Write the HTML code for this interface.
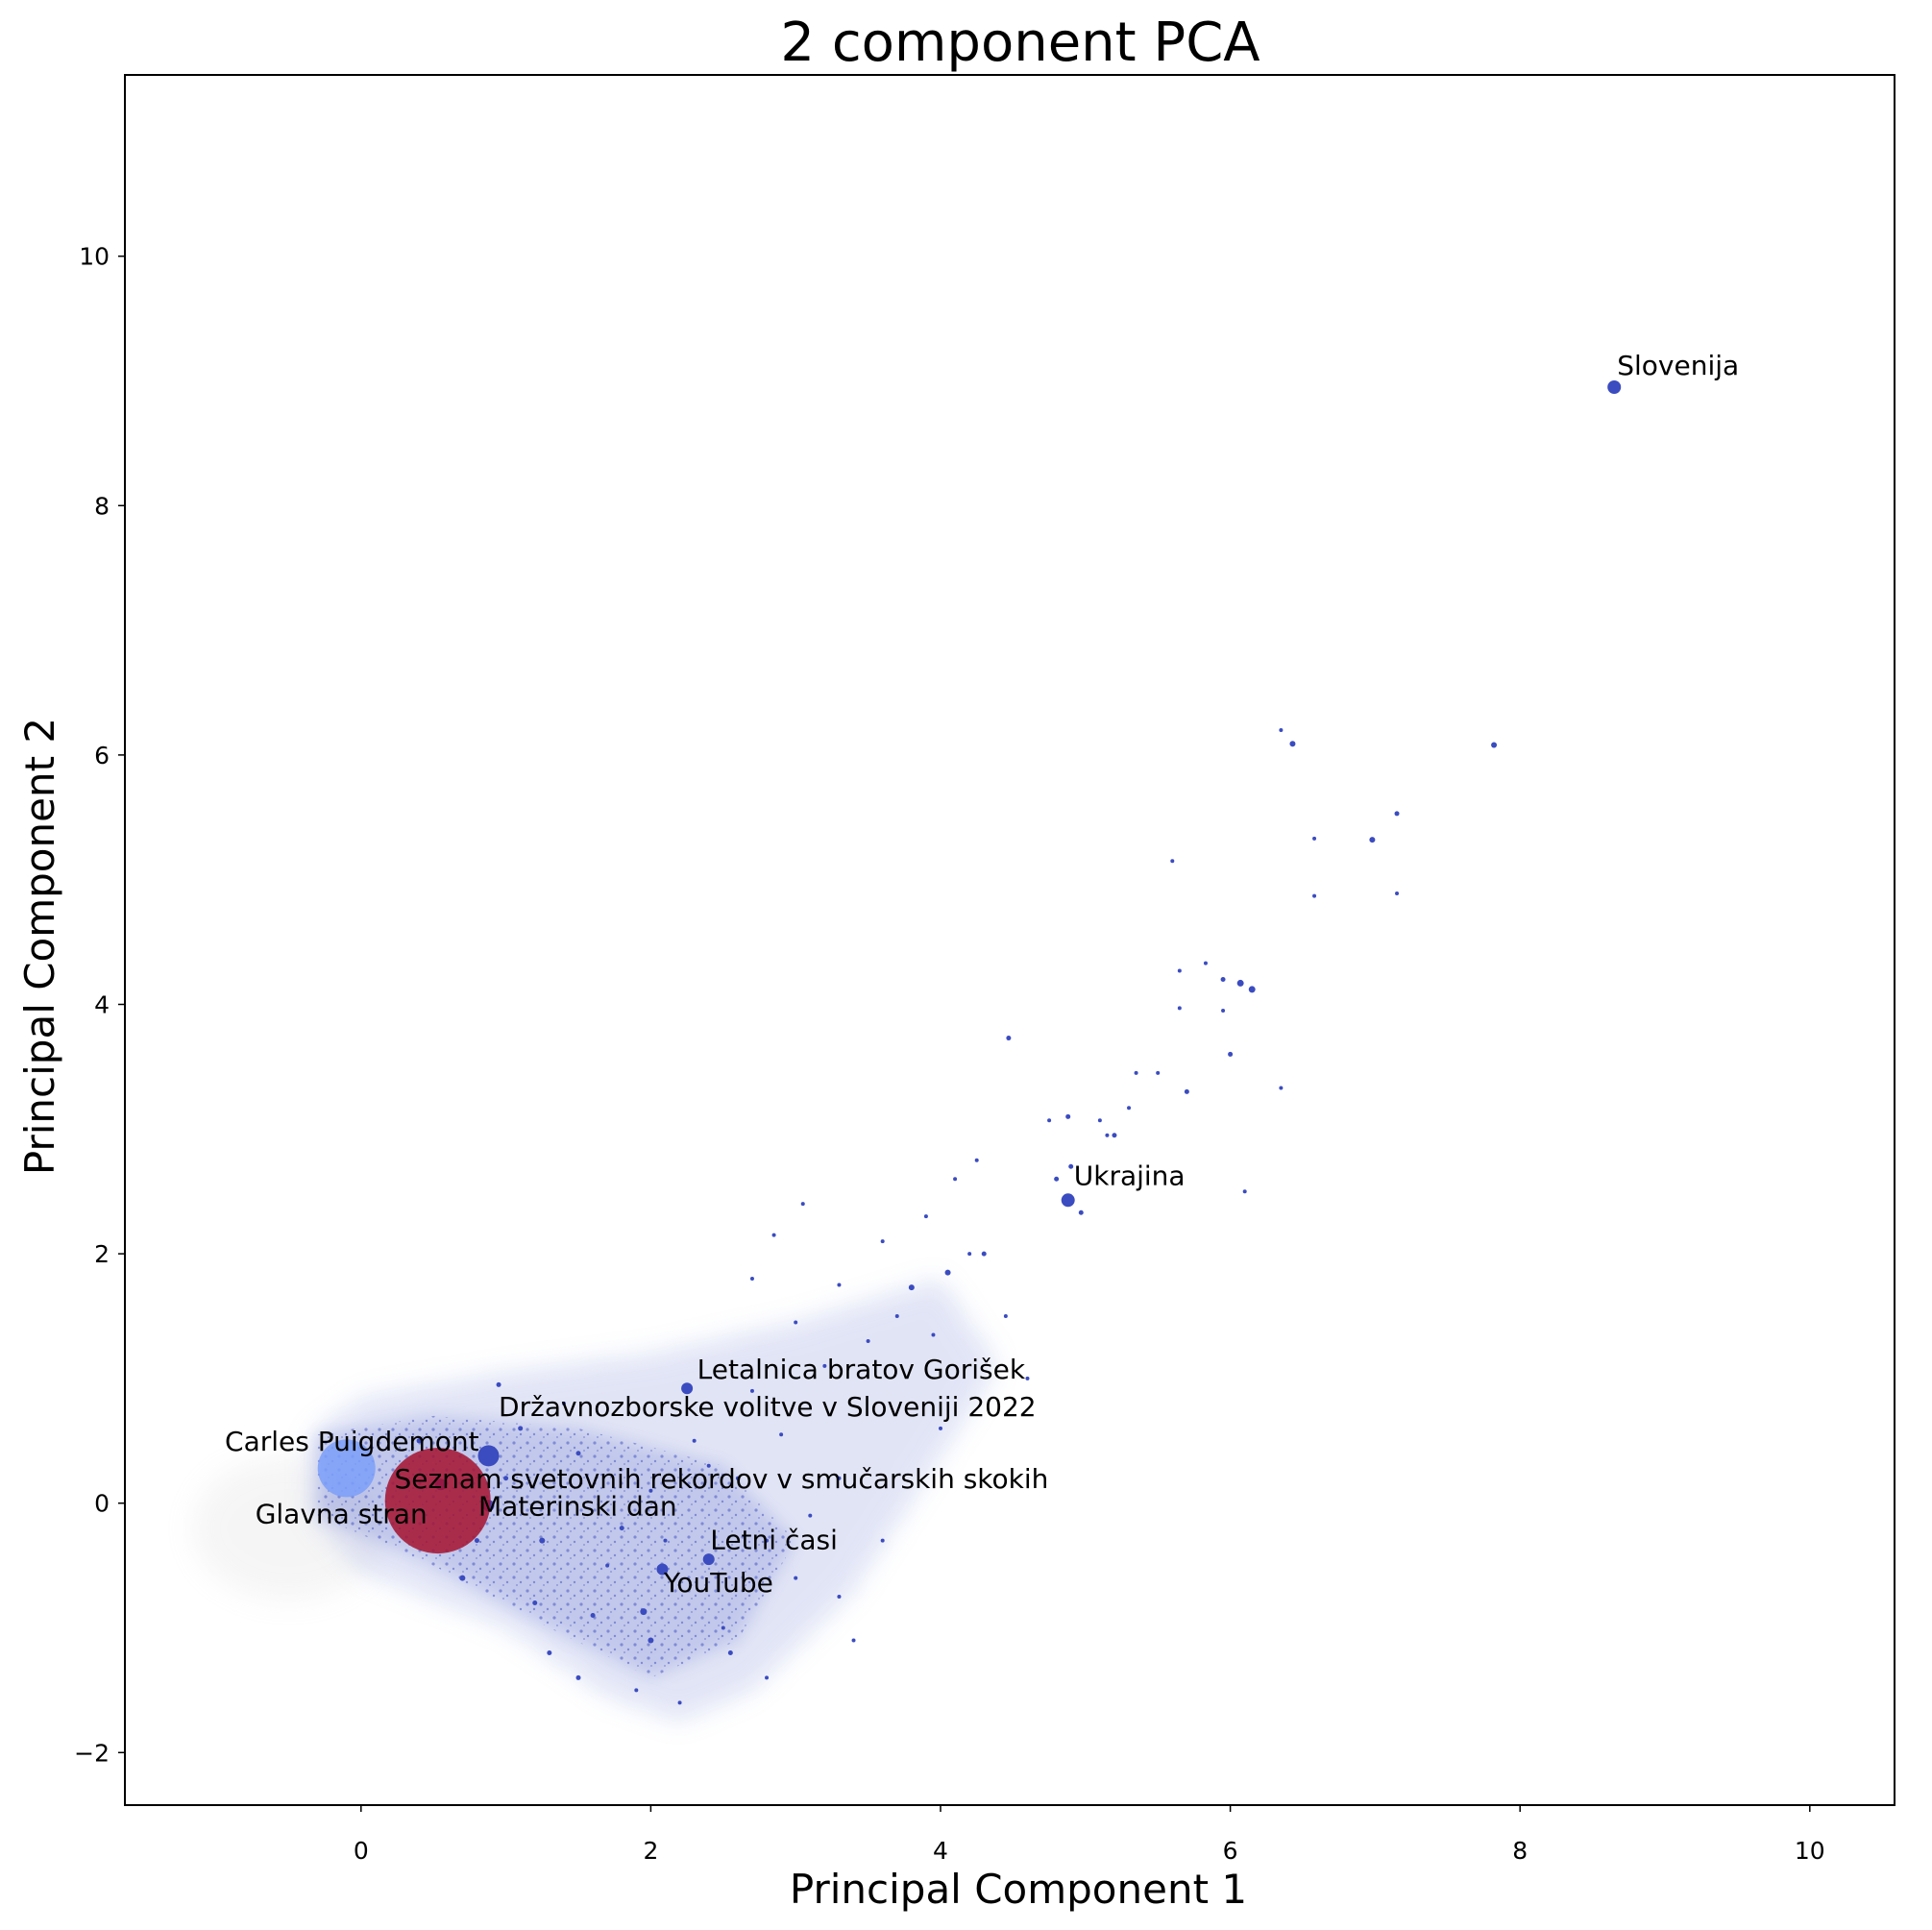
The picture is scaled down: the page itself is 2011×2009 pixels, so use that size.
<!DOCTYPE html>
<html><head><meta charset="utf-8"><style>
html,body{margin:0;padding:0;background:#fff;}
svg{display:block;font-family:"DejaVu Sans","Liberation Sans",sans-serif;}
</style></head><body>
<svg id="chart" width="2011" height="2009" viewBox="0 0 2011 2009" xmlns="http://www.w3.org/2000/svg">
<defs>
<filter id="blur1" x="-20%" y="-20%" width="140%" height="140%"><feGaussianBlur stdDeviation="14"/></filter>
<filter id="blur2" x="-20%" y="-20%" width="140%" height="140%"><feGaussianBlur stdDeviation="8"/></filter>
<pattern id="speck" width="14" height="14" patternUnits="userSpaceOnUse">
<circle cx="3" cy="4" r="1.6" fill="#3b4cc0"/><circle cx="10" cy="9" r="1.2" fill="#3b4cc0"/><circle cx="6" cy="12" r="0.9" fill="#3b4cc0"/>
</pattern>
<clipPath id="plotclip"><rect x="130" y="78" width="1842" height="1801"/></clipPath>
</defs>
<rect width="2011" height="2009" fill="#fff"/>
<text x="1062" y="63" font-size="56" text-anchor="middle">2 component PCA</text>
<g id="plot" clip-path="url(#plotclip)"></g>
<rect x="130" y="78" width="1842" height="1801" fill="none" stroke="#000" stroke-width="2"/>
<g id="xticks"></g>
<g id="yticks"></g>
<text x="1060" y="1981" font-size="42" text-anchor="middle">Principal Component 1</text>
<text x="0" y="0" font-size="42" text-anchor="middle" transform="translate(56,985) rotate(-90)">Principal Component 2</text>
</svg>
<script>
const xTicks = [0, 2, 4, 6, 8, 10];
const yTicks = [-2, 0, 2, 4, 6, 8, 10];
const xTickLabels = ["0", "2", "4", "6", "8", "10"];
const yTickLabels = ["\u22122", "0", "2", "4", "6", "8", "10"];
// small dark points
const ptsX = [6.43,7.82,6.35,7.15,6.98,6.58,7.15,6.58,5.6,6.07,6.15,5.95,5.83,5.65,5.65,5.95,6.0,5.7,5.5,5.35,6.35,4.47,4.88,4.75,5.1,5.2,5.15,5.3,4.9,4.8,4.97,6.1,4.25,4.3,4.2,4.05,3.8,4.45,4.6,3.05,2.85,3.3,2.7,3.0,3.5,3.7,3.95,4.0,3.3,2.55,2.0,1.95,2.2,1.5,1.25,1.7,1.1,0.95,1.5,2.0,2.6,2.9,2.3,1.8,2.8,3.1,3.6,3.4,2.8,3.9,4.1,3.6,3.2,2.4,2.1,1.6,1.3,0.7,0.4,1.0,1.9,2.5,3.0,1.4,1.2,0.8,2.7,3.3];
const ptsY = [6.09,6.08,6.2,5.53,5.32,5.33,4.89,4.87,5.15,4.17,4.12,4.2,4.33,4.27,3.97,3.95,3.6,3.3,3.45,3.45,3.33,3.73,3.1,3.07,3.07,2.95,2.95,3.17,2.7,2.6,2.33,2.5,2.75,2.0,2.0,1.85,1.73,1.5,1.0,2.4,2.15,1.75,1.8,1.45,1.3,1.5,1.35,0.6,-0.75,-1.2,-1.1,-0.87,-1.6,-1.4,-0.3,-0.5,0.6,0.95,0.4,0.1,0.2,0.55,0.5,-0.2,-0.3,-0.1,-0.3,-1.1,-1.4,2.3,2.6,2.1,1.1,0.3,-0.3,-0.9,-1.2,-0.6,0.5,0.2,-1.5,-1.0,-0.6,0.8,-0.8,-0.3,0.9,0.2];
const ptsSize = [3,3,2,2.5,3,2,2,2,2,3.5,3.5,2.5,2,2,2,2,2.5,2.5,2,2,2,2.5,2.5,2,2,2.5,2,2,2.5,2.5,2.5,2,2,2.5,2,3,3,2,2,2,2,2,2,2,2,2,2,2,2,2.5,3,3.5,2,2.5,3,2,2.5,2.5,2.5,2,2,2,2,2.5,2,2,2,2,2,2,2,2,2,2,2,2.5,2.5,3,2.5,2.5,2,2,2,2,2.5,2.5,2,2];
// named articles
const labels = ["Slovenija","Ukrajina","Letalnica bratov Gorišek","Državnozborske volitve v Sloveniji 2022","Carles Puigdemont","Seznam svetovnih rekordov v smučarskih skokih","Materinski dan","Glavna stran","Letni časi","YouTube"];
const labX = [8.65,4.88,2.25,0.88,-0.1,0.55,0.88,0.53,2.4,2.08];
const labY = [8.95,2.43,0.92,0.38,0.28,0.15,-0.02,0.02,-0.45,-0.53];
const labR = [7,7,6,11,30,6,6,55,6,6];
const labColor = ["#3b4cc0","#3b4cc0","#3b4cc0","#3b4cc0","#7b9ff9","#3b4cc0","#3b4cc0","#a5122f","#3b4cc0","#3b4cc0"];
const textX = [8.67,4.92,2.32,0.95,-0.94,0.23,0.81,-0.73,2.41,2.09];
const textY = [9.05,2.55,1.0,0.7,0.42,0.12,-0.1,-0.16,-0.37,-0.71];

const X0=375.8, XS=150.8, Y0=1564.7, YS=129.8;
const sx = v => X0 + v*XS;
const sy = v => Y0 - v*YS;
const NS="http://www.w3.org/2000/svg";
function mk(tag, attrs, parent){const e=document.createElementNS(NS,tag);for(const k in attrs)e.setAttribute(k,attrs[k]);parent.appendChild(e);return e;}
const plot=document.getElementById('plot');

const gray = mk('ellipse',{cx:sx(-0.5),cy:sy(-0.2),rx:100,ry:75,fill:'#ccc',opacity:0.18,filter:'url(#blur1)'},plot);


const cloudPoly=[[-0.35,0.55],[0,0.85],[1,1.05],[2,1.2],[3,1.45],[4,1.8],[4.4,1.1],[3.9,0.2],[3.4,-0.7],[2.7,-1.5],[2.2,-1.75],[1.7,-1.55],[1,-1.0],[0,-0.55],[-0.35,-0.1]];
const cpts=cloudPoly.map(p=>sx(p[0])+','+sy(p[1])).join(' ');
const cp = mk('polygon',{points:cpts,fill:'#8494dc',opacity:0.2,filter:'url(#blur1)'},plot);


const cs = mk('polygon',{points:cpts,fill:'url(#speck)',opacity:0.35,filter:'url(#blur2)'},plot);


const inner=[[-0.3,0.55],[0.5,0.7],[1.5,0.6],[2.5,0.3],[3,-0.3],[2.6,-1.1],[2,-1.4],[1.3,-1.0],[0.5,-0.5],[-0.3,-0.1]];
const ipts=inner.map(p=>sx(p[0])+','+sy(p[1])).join(' ');
const ip = mk('polygon',{points:ipts,fill:'#5869cc',opacity:0.22,filter:'url(#blur2)'},plot);


const is = mk('polygon',{points:ipts,fill:'url(#speck)',opacity:0.5},plot);



for(let i=0;i<ptsX.length;i++){
  const c=mk('circle',{cx:sx(ptsX[i]),cy:sy(ptsY[i]),r:ptsSize[i],fill:'#3b4cc0'},plot);
  
  
}
for(let i=0;i<labels.length;i++){
  const c=mk('circle',{cx:sx(labX[i]),cy:sy(labY[i]),r:labR[i],fill:labColor[i],opacity:labR[i]>20?0.85:1},plot);
  
  
}
for(let i=0;i<labels.length;i++){
  const t=mk('text',{x:sx(textX[i]),y:sy(textY[i]),'font-size':28,fill:'#000'},plot);
  t.textContent=labels[i];
  
  
}
const xg=document.getElementById('xticks');
xTicks.forEach((v,i)=>{
  const l=mk('line',{x1:sx(v),x2:sx(v),y1:1879,y2:1886,stroke:'#000','stroke-width':1.5},xg);
  
  
  const t=mk('text',{x:sx(v),y:1935,'font-size':25,'text-anchor':'middle'},xg);
  t.textContent=xTickLabels[i];
  
  
});
const yg=document.getElementById('yticks');
yTicks.forEach((v,i)=>{
  const l=mk('line',{x1:123,x2:130,y1:sy(v),y2:sy(v),stroke:'#000','stroke-width':1.5},yg);
  
  
  const t=mk('text',{x:114,y:sy(v)+9,'font-size':25,'text-anchor':'end'},yg);
  t.textContent=yTickLabels[i];
  
  
});
</script>
</body></html>
